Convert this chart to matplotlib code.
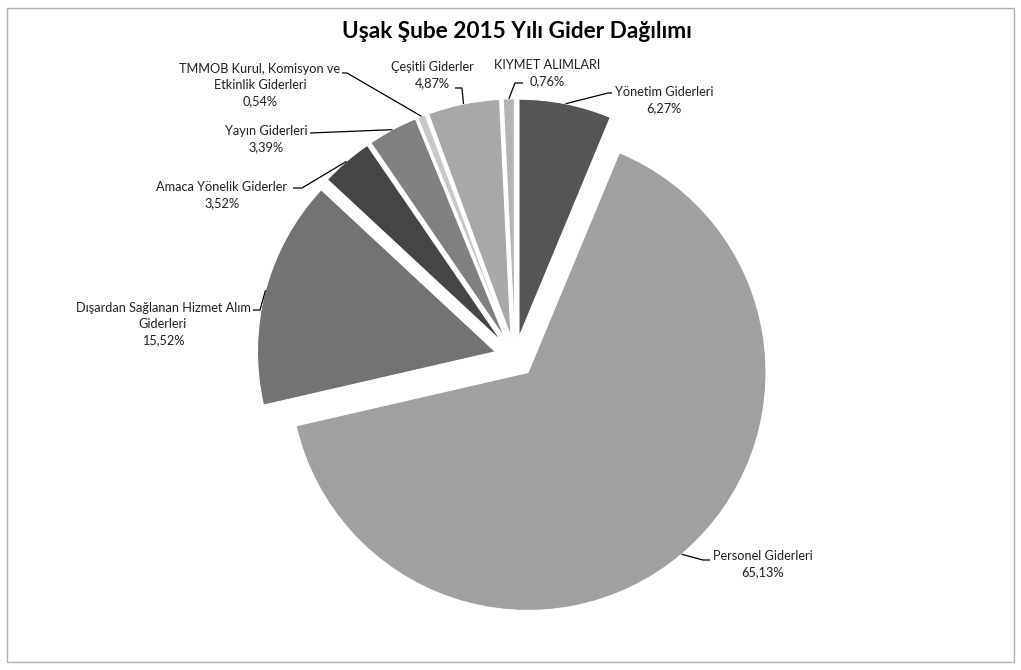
import numpy as np
import matplotlib
matplotlib.use("Agg")
import matplotlib.pyplot as plt
from matplotlib.patches import Rectangle

categories = [
    "Yönetim Giderleri",
    "Personel Giderleri",
    "Dışardan Sağlanan Hizmet Alım\nGiderleri",
    "Amaca Yönelik Giderler",
    "Yayın Giderleri",
    "TMMOB Kurul, Komisyon ve\nEtkinlik Giderleri",
    "Çeşitli Giderler",
    "KIYMET ALIMLARI",
]
values = [6.27, 65.13, 15.52, 3.52, 3.39, 0.54, 4.87, 0.76]
colors = ["#555555", "#a0a0a0", "#737373", "#454545", "#808080", "#c8c8c8", "#a8a8a8", "#b4b4b4"]
title = "Uşak Şube 2015 Yılı Gider Dağılımı"

# label layout in pixel coords: (elbow x, elbow y, end x, text center x, text center y)
label_layout = [
    (608, 93, 612, 664, 100),
    (703, 560, 710, 763, 564),
    (260, 310, 253, 163, 324),
    (302, 188, 293, 222, 195),
    (310, 133, 310, 266, 139),
    (347, 73, 342, 260, 85),
    (462, 88, 455, 432, 75),
    (515, 83, 523, 547, 73),
]

W, H = 1021, 670
CX, CY, R = 515, 357, 238.0

def px(x, y):
    return (x - CX) / R, (CY - y) / R

plt.rcParams['font.family'] = ['Lato', 'DejaVu Sans']
fig = plt.figure(figsize=(W / 100, H / 100), dpi=100)
ax = fig.add_axes([0, 0, 1, 1])

wedges, _ = ax.pie(values, colors=colors, startangle=90, counterclock=False,
                   explode=[0.085] * len(values),
                   wedgeprops=dict(edgecolor="white", linewidth=0.8))
ax.set_aspect('auto')
ax.set_xlim(-CX / R, (W - CX) / R)
ax.set_ylim(-(H - CY) / R, CY / R)
ax.axis('off')

for w, cat, v, lay in zip(wedges, categories, values, label_layout):
    mid = np.deg2rad((w.theta1 + w.theta2) / 2)
    cx, cy = w.center
    sx, sy = cx + w.r * np.cos(mid), cy + w.r * np.sin(mid)
    ex, ey = px(lay[0], lay[1])
    fx, _ = px(lay[2], lay[1])
    ax.plot([sx, ex, fx], [sy, ey, ey], color="black", lw=0.9, solid_capstyle='butt')
    tx, ty = px(lay[3], lay[4])
    pct = f"{v:.2f}".replace('.', ',') + "%"
    ax.text(tx, ty, cat + "\n" + pct, ha="center", va="center", fontsize=9.2,
            linespacing=1.4, color="#222222")

fig.text(517 / W, 1 - 32 / H, title, ha="center", va="center", fontsize=16.3,
         fontweight="bold", color="black")

fig.patches.append(Rectangle((7 / W, 8 / H), (1014 - 7) / W, (662 - 8) / H,
                             transform=fig.transFigure, fill=False,
                             edgecolor="#b0b0b0", lw=1))

fig.savefig("out.png", dpi=100, facecolor="white")
